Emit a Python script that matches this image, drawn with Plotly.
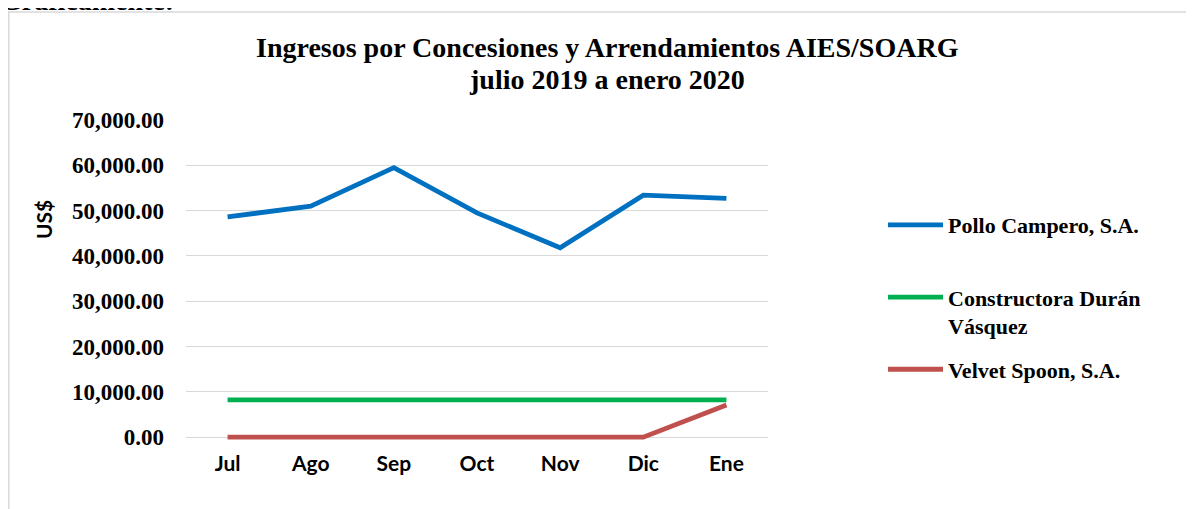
import plotly.graph_objects as go

months = ["Jul", "Ago", "Sep", "Oct", "Nov", "Dic", "Ene"]
pollo = [48600, 51000, 59500, 49500, 41800, 53400, 52700]
constructora = [8230, 8230, 8230, 8230, 8230, 8230, 8230]
velvet = [0, 0, 0, 0, 0, 0, 7100]

series_names = ["Pollo Campero, S.A.<br> ", "Constructora Durán<br>Vásquez", "Velvet Spoon, S.A.<br> "]
series_values = [pollo, constructora, velvet]
series_colors = ["#0070C0", "#00B050", "#C0504D"]
y_ticks = [0, 10000, 20000, 30000, 40000, 50000, 60000, 70000]
title_lines = ["Ingresos por Concesiones y Arrendamientos AIES/SOARG", "julio 2019 a enero 2020"]

# page has an 8px body margin: layout coords = reference coords - 8
OFF = 8
Y_TOP = 70000
Y_PAD = 1500          # small extra room below 0 so the line at 0 is not clipped
Y0_REF, YTOP_REF = 437, 120
PX_PER_UNIT = (Y0_REF - YTOP_REF) / Y_TOP
B_REF = Y0_REF + Y_PAD * PX_PER_UNIT

W, H = 1194 - OFF, 509 - OFF
L, R, T, B = 186 - OFF, 768 - OFF, YTOP_REF - OFF, B_REF - OFF

fig = go.Figure()
for i, (n, v, c) in enumerate(zip(series_names, series_values, series_colors)):
    fig.add_trace(go.Scatter(x=months, y=v, name=n, mode="lines",
                             line=dict(color=c, width=4.8), cliponaxis=False,
                             legendgroup=f"g{i}"))

def px(x):
    return (x - OFF - L) / (R - L)

def py(y):
    return (B - (y - OFF)) / (B - T)

title_font = dict(family="Liberation Serif", size=28, color="black", weight="bold")

fig.update_layout(
    width=W, height=H,
    margin=dict(l=L, r=W - R, t=T, b=H - B, pad=0, autoexpand=False),
    paper_bgcolor="white", plot_bgcolor="white",
    xaxis=dict(type="category", range=[-0.5, 6.5], showgrid=False, showline=False,
               ticks="", tickfont=dict(family="Lato", size=21, color="black", weight="bold"),
               ticklabelstandoff=5, zeroline=False, automargin=False),
    yaxis=dict(range=[-Y_PAD, Y_TOP], tickvals=y_ticks, tickformat=",.2f",
               showgrid=True, gridcolor="#D9D9D9", gridwidth=1.3, zeroline=False,
               showline=False, ticks="", automargin=False,
               tickfont=dict(family="Liberation Serif", size=23, color="black", weight="bold"),
               ticklabelstandoff=21),
    legend=dict(x=px(883), xanchor="left", y=py(204), yanchor="top",
                font=dict(family="Liberation Serif", size=22, color="black", weight="bold"),
                valign="top", tracegroupgap=12, itemwidth=55, bgcolor="rgba(0,0,0,0)"),
    showlegend=True,
    shapes=[dict(type="rect", xref="paper", yref="paper",
                 x0=px(8.8), x1=px(1210), y0=py(530), y1=py(12),
                 line=dict(color="#D9D9D9", width=1.5), fillcolor="rgba(0,0,0,0)", layer="below")],
    annotations=[
        dict(text=title_lines[0], xref="paper", yref="paper",
             x=px(607), xanchor="center", y=py(48), yanchor="middle", showarrow=False,
             font=title_font),
        dict(text=title_lines[1], xref="paper", yref="paper",
             x=px(607), xanchor="center", y=py(80), yanchor="middle", showarrow=False,
             font=title_font),
        dict(text="Gráficamente:", xref="paper", yref="paper",
             x=px(-2), xanchor="left", y=py(18), yanchor="bottom", showarrow=False,
             font=dict(family="Liberation Serif", size=28, color="black", weight="bold")),
        dict(text="US$", xref="paper", yref="paper", textangle=-90,
             x=px(43), xanchor="center", y=py(220), yanchor="middle", showarrow=False,
             font=dict(family="Lato", size=21, color="black", weight="bold")),
    ],
)

fig.write_html("out.html")
